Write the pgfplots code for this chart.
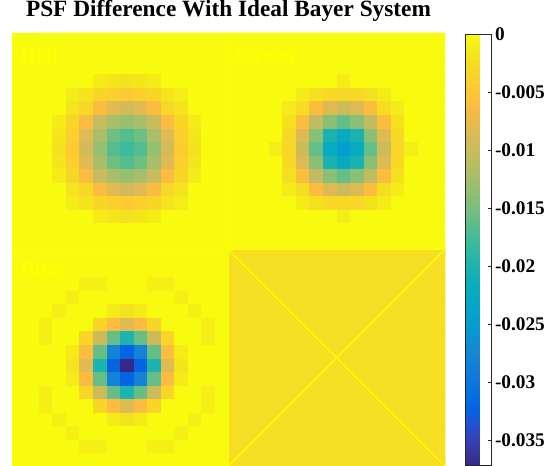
\documentclass[border=0pt]{standalone}
\usepackage{fontspec}
\setmainfont{Liberation Serif}
\usepackage{pgfplots}
\pgfplotsset{compat=1.18}
\definecolor{pureyellow}{RGB}{255,255,0}
\definecolor{cbframe}{RGB}{38,38,38}
\definecolor{zerocol}{rgb}{0.9763,0.9831,0.0538}
\definecolor{xqcol}{rgb}{0.9632,0.8687,0.1322}
\pgfplotsset{colormap={parula}{
rgb=(0.2081,0.1663,0.5292) rgb=(0.2116,0.1898,0.5777) rgb=(0.2123,0.2138,0.6270) rgb=(0.2081,0.2386,0.6771)
rgb=(0.1959,0.2645,0.7279) rgb=(0.1707,0.2919,0.7792) rgb=(0.1253,0.3242,0.8303) rgb=(0.0591,0.3598,0.8683)
rgb=(0.0117,0.3875,0.8820) rgb=(0.0060,0.4086,0.8828) rgb=(0.0165,0.4266,0.8786) rgb=(0.0329,0.4430,0.8720)
rgb=(0.0498,0.4586,0.8641) rgb=(0.0629,0.4737,0.8554) rgb=(0.0723,0.4887,0.8467) rgb=(0.0779,0.5040,0.8384)
rgb=(0.0793,0.5200,0.8312) rgb=(0.0749,0.5375,0.8263) rgb=(0.0641,0.5570,0.8240) rgb=(0.0488,0.5772,0.8228)
rgb=(0.0343,0.5966,0.8199) rgb=(0.0265,0.6137,0.8135) rgb=(0.0239,0.6287,0.8038) rgb=(0.0231,0.6418,0.7913)
rgb=(0.0228,0.6535,0.7768) rgb=(0.0267,0.6642,0.7607) rgb=(0.0384,0.6743,0.7436) rgb=(0.0590,0.6838,0.7254)
rgb=(0.0843,0.6928,0.7062) rgb=(0.1133,0.7015,0.6859) rgb=(0.1453,0.7098,0.6646) rgb=(0.1801,0.7177,0.6424)
rgb=(0.2178,0.7250,0.6193) rgb=(0.2586,0.7317,0.5954) rgb=(0.3022,0.7376,0.5712) rgb=(0.3482,0.7424,0.5473)
rgb=(0.3953,0.7459,0.5244) rgb=(0.4420,0.7481,0.5033) rgb=(0.4871,0.7491,0.4840) rgb=(0.5300,0.7491,0.4661)
rgb=(0.5709,0.7485,0.4494) rgb=(0.6099,0.7473,0.4337) rgb=(0.6473,0.7456,0.4188) rgb=(0.6834,0.7435,0.4044)
rgb=(0.7184,0.7411,0.3905) rgb=(0.7525,0.7384,0.3768) rgb=(0.7858,0.7356,0.3633) rgb=(0.8185,0.7327,0.3498)
rgb=(0.8507,0.7299,0.3360) rgb=(0.8824,0.7274,0.3217) rgb=(0.9139,0.7258,0.3063) rgb=(0.9450,0.7261,0.2886)
rgb=(0.9739,0.7314,0.2666) rgb=(0.9938,0.7455,0.2403) rgb=(0.9990,0.7653,0.2164) rgb=(0.9955,0.7861,0.1967)
rgb=(0.9880,0.8066,0.1794) rgb=(0.9789,0.8271,0.1633) rgb=(0.9697,0.8481,0.1475) rgb=(0.9626,0.8705,0.1309)
rgb=(0.9589,0.8949,0.1132) rgb=(0.9598,0.9218,0.0948) rgb=(0.9661,0.9514,0.0755) rgb=(0.9763,0.9831,0.0538)
}}
\begin{document}
\begin{tikzpicture}
\useasboundingbox (0,0) rectangle (554bp,466bp);
\begin{axis}[
  at={(12bp,0bp)}, anchor=south west,
  width=433bp, height=433bp, scale only axis,
  xmin=0.5, xmax=32.5, ymin=0.5, ymax=32.5,
  hide axis,
  colormap name=parula,
  point meta min=-0.0371, point meta max=0,
  title={PSF Difference With Ideal Bayer System},
  title style={font=\fontsize{23.3bp}{27bp}\selectfont\bfseries, at={(0.5,1)}, anchor=base, yshift=10.3bp, inner sep=0pt},
  colorbar,
  colorbar style={
    at={(parent axis.north east)}, anchor=north west, xshift=12bp, yshift=-1bp,
    scale only axis, width=26bp, height=431bp,
    scaled y ticks=false,
    ytick={0,-0.005,-0.01,-0.015,-0.02,-0.025,-0.03,-0.035},
    yticklabels={0,-0.005,-0.01,-0.015,-0.02,-0.025,-0.03,-0.035},
    yticklabel style={font=\fontsize{19.3bp}{22bp}\selectfont\bfseries},
    ytick pos=right, yticklabel pos=right,
    tick align=inside, major tick length=4bp,
    axis line style={draw=cbframe, line width=0.8bp},
    every tick/.style={draw=cbframe, line width=0.8bp},
  },
]
% underlay: value 0 over the whole image, and the constant value of the fourth quadrant
\addplot[fill=zerocol, draw=none, forget plot] coordinates {(0.5,0.5) (32.5,0.5) (32.5,32.5) (0.5,32.5) (0.5,0.5)};
\addplot[fill=xqcol, draw=none, forget plot] coordinates {(16.5,0.5) (32.5,0.5) (32.5,16.5) (16.5,16.5) (16.5,0.5)};
% rows listed from the bottom image row (y=1) to the top image row (y=32)
\addplot[matrix plot*, mesh/cols=32, mesh/rows=32, point meta=explicit]
  table[row sep=\\, x expr={mod(\coordindex,32)+1}, y expr={floor(\coordindex/32)+1}, meta=c] {
c\\
0\\ 0\\ 0\\ 0\\ 0\\ 0\\ 0\\ 0\\ 0\\ 0\\ 0\\ 0\\ 0\\ 0\\ 0\\ 0\\ -0.0024\\ -0.0024\\ -0.0024\\ -0.0024\\ -0.0024\\ -0.0024\\ -0.0024\\ -0.0024\\ -0.0024\\ -0.0024\\ -0.0024\\ -0.0024\\ -0.0024\\ -0.0024\\ -0.0024\\ -0.0024\\
0\\ 0\\ 0\\ 0\\ 0\\ -0.0009\\ -0.0009\\ 0\\ 0\\ 0\\ -0.0009\\ -0.0009\\ 0\\ 0\\ 0\\ 0\\ -0.0024\\ -0.0024\\ -0.0024\\ -0.0024\\ -0.0024\\ -0.0024\\ -0.0024\\ -0.0024\\ -0.0024\\ -0.0024\\ -0.0024\\ -0.0024\\ -0.0024\\ -0.0024\\ -0.0024\\ -0.0024\\
0\\ 0\\ 0\\ 0\\ -0.0009\\ 0\\ 0\\ 0\\ 0\\ 0\\ 0\\ 0\\ -0.0009\\ 0\\ 0\\ 0\\ -0.0024\\ -0.0024\\ -0.0024\\ -0.0024\\ -0.0024\\ -0.0024\\ -0.0024\\ -0.0024\\ -0.0024\\ -0.0024\\ -0.0024\\ -0.0024\\ -0.0024\\ -0.0024\\ -0.0024\\ -0.0024\\
0\\ 0\\ 0\\ -0.0009\\ 0\\ 0\\ 0\\ -0.0011\\ -0.0018\\ -0.0011\\ 0\\ 0\\ 0\\ -0.0009\\ 0\\ 0\\ -0.0024\\ -0.0024\\ -0.0024\\ -0.0024\\ -0.0024\\ -0.0024\\ -0.0024\\ -0.0024\\ -0.0024\\ -0.0024\\ -0.0024\\ -0.0024\\ -0.0024\\ -0.0024\\ -0.0024\\ -0.0024\\
0\\ 0\\ -0.0009\\ 0\\ 0\\ 0\\ -0.0033\\ -0.0062\\ -0.0083\\ -0.0062\\ -0.0033\\ 0\\ 0\\ 0\\ -0.0009\\ 0\\ -0.0024\\ -0.0024\\ -0.0024\\ -0.0024\\ -0.0024\\ -0.0024\\ -0.0024\\ -0.0024\\ -0.0024\\ -0.0024\\ -0.0024\\ -0.0024\\ -0.0024\\ -0.0024\\ -0.0024\\ -0.0024\\
0\\ 0\\ -0.0009\\ 0\\ 0\\ -0.0033\\ -0.0097\\ -0.0159\\ -0.0200\\ -0.0159\\ -0.0097\\ -0.0033\\ 0\\ 0\\ -0.0009\\ 0\\ -0.0024\\ -0.0024\\ -0.0024\\ -0.0024\\ -0.0024\\ -0.0024\\ -0.0024\\ -0.0024\\ -0.0024\\ -0.0024\\ -0.0024\\ -0.0024\\ -0.0024\\ -0.0024\\ -0.0024\\ -0.0024\\
0\\ 0\\ 0\\ 0\\ -0.0011\\ -0.0062\\ -0.0159\\ -0.0280\\ -0.0322\\ -0.0280\\ -0.0159\\ -0.0062\\ -0.0011\\ 0\\ 0\\ 0\\ -0.0024\\ -0.0024\\ -0.0024\\ -0.0024\\ -0.0024\\ -0.0024\\ -0.0024\\ -0.0024\\ -0.0024\\ -0.0024\\ -0.0024\\ -0.0024\\ -0.0024\\ -0.0024\\ -0.0024\\ -0.0024\\
0\\ 0\\ 0\\ 0\\ -0.0018\\ -0.0083\\ -0.0200\\ -0.0322\\ -0.0371\\ -0.0322\\ -0.0200\\ -0.0083\\ -0.0018\\ 0\\ 0\\ 0\\ -0.0024\\ -0.0024\\ -0.0024\\ -0.0024\\ -0.0024\\ -0.0024\\ -0.0024\\ -0.0024\\ -0.0024\\ -0.0024\\ -0.0024\\ -0.0024\\ -0.0024\\ -0.0024\\ -0.0024\\ -0.0024\\
0\\ 0\\ 0\\ 0\\ -0.0011\\ -0.0062\\ -0.0159\\ -0.0280\\ -0.0322\\ -0.0280\\ -0.0159\\ -0.0062\\ -0.0011\\ 0\\ 0\\ 0\\ -0.0024\\ -0.0024\\ -0.0024\\ -0.0024\\ -0.0024\\ -0.0024\\ -0.0024\\ -0.0024\\ -0.0024\\ -0.0024\\ -0.0024\\ -0.0024\\ -0.0024\\ -0.0024\\ -0.0024\\ -0.0024\\
0\\ 0\\ -0.0009\\ 0\\ 0\\ -0.0033\\ -0.0097\\ -0.0159\\ -0.0200\\ -0.0159\\ -0.0097\\ -0.0033\\ 0\\ 0\\ -0.0009\\ 0\\ -0.0024\\ -0.0024\\ -0.0024\\ -0.0024\\ -0.0024\\ -0.0024\\ -0.0024\\ -0.0024\\ -0.0024\\ -0.0024\\ -0.0024\\ -0.0024\\ -0.0024\\ -0.0024\\ -0.0024\\ -0.0024\\
0\\ 0\\ -0.0009\\ 0\\ 0\\ 0\\ -0.0033\\ -0.0062\\ -0.0083\\ -0.0062\\ -0.0033\\ 0\\ 0\\ 0\\ -0.0009\\ 0\\ -0.0024\\ -0.0024\\ -0.0024\\ -0.0024\\ -0.0024\\ -0.0024\\ -0.0024\\ -0.0024\\ -0.0024\\ -0.0024\\ -0.0024\\ -0.0024\\ -0.0024\\ -0.0024\\ -0.0024\\ -0.0024\\
0\\ 0\\ 0\\ -0.0009\\ 0\\ 0\\ 0\\ -0.0011\\ -0.0018\\ -0.0011\\ 0\\ 0\\ 0\\ -0.0009\\ 0\\ 0\\ -0.0024\\ -0.0024\\ -0.0024\\ -0.0024\\ -0.0024\\ -0.0024\\ -0.0024\\ -0.0024\\ -0.0024\\ -0.0024\\ -0.0024\\ -0.0024\\ -0.0024\\ -0.0024\\ -0.0024\\ -0.0024\\
0\\ 0\\ 0\\ 0\\ -0.0009\\ 0\\ 0\\ 0\\ 0\\ 0\\ 0\\ 0\\ -0.0009\\ 0\\ 0\\ 0\\ -0.0024\\ -0.0024\\ -0.0024\\ -0.0024\\ -0.0024\\ -0.0024\\ -0.0024\\ -0.0024\\ -0.0024\\ -0.0024\\ -0.0024\\ -0.0024\\ -0.0024\\ -0.0024\\ -0.0024\\ -0.0024\\
0\\ 0\\ 0\\ 0\\ 0\\ -0.0009\\ -0.0009\\ 0\\ 0\\ 0\\ -0.0009\\ -0.0009\\ 0\\ 0\\ 0\\ 0\\ -0.0024\\ -0.0024\\ -0.0024\\ -0.0024\\ -0.0024\\ -0.0024\\ -0.0024\\ -0.0024\\ -0.0024\\ -0.0024\\ -0.0024\\ -0.0024\\ -0.0024\\ -0.0024\\ -0.0024\\ -0.0024\\
0\\ 0\\ 0\\ 0\\ 0\\ 0\\ 0\\ 0\\ 0\\ 0\\ 0\\ 0\\ 0\\ 0\\ 0\\ 0\\ -0.0024\\ -0.0024\\ -0.0024\\ -0.0024\\ -0.0024\\ -0.0024\\ -0.0024\\ -0.0024\\ -0.0024\\ -0.0024\\ -0.0024\\ -0.0024\\ -0.0024\\ -0.0024\\ -0.0024\\ -0.0024\\
0\\ 0\\ 0\\ 0\\ 0\\ 0\\ 0\\ 0\\ 0\\ 0\\ 0\\ 0\\ 0\\ 0\\ 0\\ 0\\ -0.0024\\ -0.0024\\ -0.0024\\ -0.0024\\ -0.0024\\ -0.0024\\ -0.0024\\ -0.0024\\ -0.0024\\ -0.0024\\ -0.0024\\ -0.0024\\ -0.0024\\ -0.0024\\ -0.0024\\ -0.0024\\
0\\ 0\\ 0\\ 0\\ 0\\ 0\\ 0\\ 0\\ 0\\ 0\\ 0\\ 0\\ 0\\ 0\\ 0\\ 0\\ 0\\ 0\\ 0\\ 0\\ 0\\ 0\\ 0\\ 0\\ 0\\ 0\\ 0\\ 0\\ 0\\ 0\\ 0\\ 0\\
0\\ 0\\ 0\\ 0\\ 0\\ 0\\ 0\\ 0\\ 0\\ 0\\ 0\\ 0\\ 0\\ 0\\ 0\\ 0\\ 0\\ 0\\ 0\\ 0\\ 0\\ 0\\ 0\\ 0\\ 0\\ 0\\ 0\\ 0\\ 0\\ 0\\ 0\\ 0\\
0\\ 0\\ 0\\ 0\\ 0\\ 0\\ -0.0011\\ -0.0016\\ -0.0020\\ -0.0016\\ -0.0011\\ 0\\ 0\\ 0\\ 0\\ 0\\ 0\\ 0\\ 0\\ 0\\ 0\\ 0\\ 0\\ 0\\ -0.0010\\ 0\\ 0\\ 0\\ 0\\ 0\\ 0\\ 0\\
0\\ 0\\ 0\\ 0\\ -0.0010\\ -0.0018\\ -0.0032\\ -0.0040\\ -0.0045\\ -0.0040\\ -0.0032\\ -0.0018\\ -0.0010\\ 0\\ 0\\ 0\\ 0\\ 0\\ 0\\ 0\\ 0\\ -0.0012\\ -0.0022\\ -0.0030\\ -0.0031\\ -0.0030\\ -0.0022\\ -0.0012\\ 0\\ 0\\ 0\\ 0\\
0\\ 0\\ 0\\ 0\\ -0.0018\\ -0.0030\\ -0.0062\\ -0.0083\\ -0.0092\\ -0.0083\\ -0.0062\\ -0.0030\\ -0.0018\\ 0\\ 0\\ 0\\ 0\\ 0\\ 0\\ 0\\ -0.0012\\ -0.0025\\ -0.0060\\ -0.0085\\ -0.0098\\ -0.0085\\ -0.0060\\ -0.0025\\ -0.0012\\ 0\\ 0\\ 0\\
0\\ 0\\ 0\\ -0.0011\\ -0.0032\\ -0.0062\\ -0.0100\\ -0.0122\\ -0.0132\\ -0.0122\\ -0.0100\\ -0.0062\\ -0.0032\\ -0.0011\\ 0\\ 0\\ 0\\ 0\\ 0\\ 0\\ -0.0022\\ -0.0060\\ -0.0105\\ -0.0140\\ -0.0160\\ -0.0140\\ -0.0105\\ -0.0060\\ -0.0022\\ 0\\ 0\\ 0\\
0\\ 0\\ 0\\ -0.0016\\ -0.0040\\ -0.0083\\ -0.0122\\ -0.0155\\ -0.0168\\ -0.0155\\ -0.0122\\ -0.0083\\ -0.0040\\ -0.0016\\ 0\\ 0\\ 0\\ 0\\ 0\\ 0\\ -0.0030\\ -0.0085\\ -0.0140\\ -0.0203\\ -0.0222\\ -0.0203\\ -0.0140\\ -0.0085\\ -0.0030\\ 0\\ 0\\ 0\\
0\\ 0\\ 0\\ -0.0020\\ -0.0045\\ -0.0092\\ -0.0132\\ -0.0168\\ -0.0180\\ -0.0168\\ -0.0132\\ -0.0092\\ -0.0045\\ -0.0020\\ 0\\ 0\\ 0\\ 0\\ 0\\ -0.0010\\ -0.0031\\ -0.0098\\ -0.0160\\ -0.0222\\ -0.0245\\ -0.0222\\ -0.0160\\ -0.0098\\ -0.0031\\ -0.0010\\ 0\\ 0\\
0\\ 0\\ 0\\ -0.0016\\ -0.0040\\ -0.0083\\ -0.0122\\ -0.0155\\ -0.0168\\ -0.0155\\ -0.0122\\ -0.0083\\ -0.0040\\ -0.0016\\ 0\\ 0\\ 0\\ 0\\ 0\\ 0\\ -0.0030\\ -0.0085\\ -0.0140\\ -0.0203\\ -0.0222\\ -0.0203\\ -0.0140\\ -0.0085\\ -0.0030\\ 0\\ 0\\ 0\\
0\\ 0\\ 0\\ -0.0011\\ -0.0032\\ -0.0062\\ -0.0100\\ -0.0122\\ -0.0132\\ -0.0122\\ -0.0100\\ -0.0062\\ -0.0032\\ -0.0011\\ 0\\ 0\\ 0\\ 0\\ 0\\ 0\\ -0.0022\\ -0.0060\\ -0.0105\\ -0.0140\\ -0.0160\\ -0.0140\\ -0.0105\\ -0.0060\\ -0.0022\\ 0\\ 0\\ 0\\
0\\ 0\\ 0\\ 0\\ -0.0018\\ -0.0030\\ -0.0062\\ -0.0083\\ -0.0092\\ -0.0083\\ -0.0062\\ -0.0030\\ -0.0018\\ 0\\ 0\\ 0\\ 0\\ 0\\ 0\\ 0\\ -0.0012\\ -0.0025\\ -0.0060\\ -0.0085\\ -0.0098\\ -0.0085\\ -0.0060\\ -0.0025\\ -0.0012\\ 0\\ 0\\ 0\\
0\\ 0\\ 0\\ 0\\ -0.0010\\ -0.0018\\ -0.0032\\ -0.0040\\ -0.0045\\ -0.0040\\ -0.0032\\ -0.0018\\ -0.0010\\ 0\\ 0\\ 0\\ 0\\ 0\\ 0\\ 0\\ 0\\ -0.0012\\ -0.0022\\ -0.0030\\ -0.0031\\ -0.0030\\ -0.0022\\ -0.0012\\ 0\\ 0\\ 0\\ 0\\
0\\ 0\\ 0\\ 0\\ 0\\ 0\\ -0.0011\\ -0.0016\\ -0.0020\\ -0.0016\\ -0.0011\\ 0\\ 0\\ 0\\ 0\\ 0\\ 0\\ 0\\ 0\\ 0\\ 0\\ 0\\ 0\\ 0\\ -0.0010\\ 0\\ 0\\ 0\\ 0\\ 0\\ 0\\ 0\\
0\\ 0\\ 0\\ 0\\ 0\\ 0\\ 0\\ 0\\ 0\\ 0\\ 0\\ 0\\ 0\\ 0\\ 0\\ 0\\ 0\\ 0\\ 0\\ 0\\ 0\\ 0\\ 0\\ 0\\ 0\\ 0\\ 0\\ 0\\ 0\\ 0\\ 0\\ 0\\
0\\ 0\\ 0\\ 0\\ 0\\ 0\\ 0\\ 0\\ 0\\ 0\\ 0\\ 0\\ 0\\ 0\\ 0\\ 0\\ 0\\ 0\\ 0\\ 0\\ 0\\ 0\\ 0\\ 0\\ 0\\ 0\\ 0\\ 0\\ 0\\ 0\\ 0\\ 0\\
0\\ 0\\ 0\\ 0\\ 0\\ 0\\ 0\\ 0\\ 0\\ 0\\ 0\\ 0\\ 0\\ 0\\ 0\\ 0\\ 0\\ 0\\ 0\\ 0\\ 0\\ 0\\ 0\\ 0\\ 0\\ 0\\ 0\\ 0\\ 0\\ 0\\ 0\\ 0\\
};
\addplot[draw=pureyellow, line width=1.4bp, forget plot] coordinates {(16.5,0.5) (16.5,32.5)};
\addplot[draw=pureyellow, line width=1.4bp, forget plot] coordinates {(0.5,16.5) (32.5,16.5)};
\addplot[draw=pureyellow, line width=1.4bp, forget plot] coordinates {(16.5,16.5) (32.5,0.5)};
\addplot[draw=pureyellow, line width=1.4bp, forget plot] coordinates {(16.5,0.5) (32.5,16.5)};
\node[anchor=base west, text=pureyellow, font=\fontsize{22bp}{26bp}\selectfont\bfseries, inner sep=0pt] at (axis cs:1.1,30.35) {Red};
\node[anchor=base west, text=pureyellow, font=\fontsize{22bp}{26bp}\selectfont\bfseries, inner sep=0pt] at (axis cs:17.06,30.35) {Green};
\node[anchor=base west, text=pureyellow, font=\fontsize{22bp}{26bp}\selectfont\bfseries, inner sep=0pt] at (axis cs:1.1,14.47) {Blue};
\end{axis}
\end{tikzpicture}
\end{document}
